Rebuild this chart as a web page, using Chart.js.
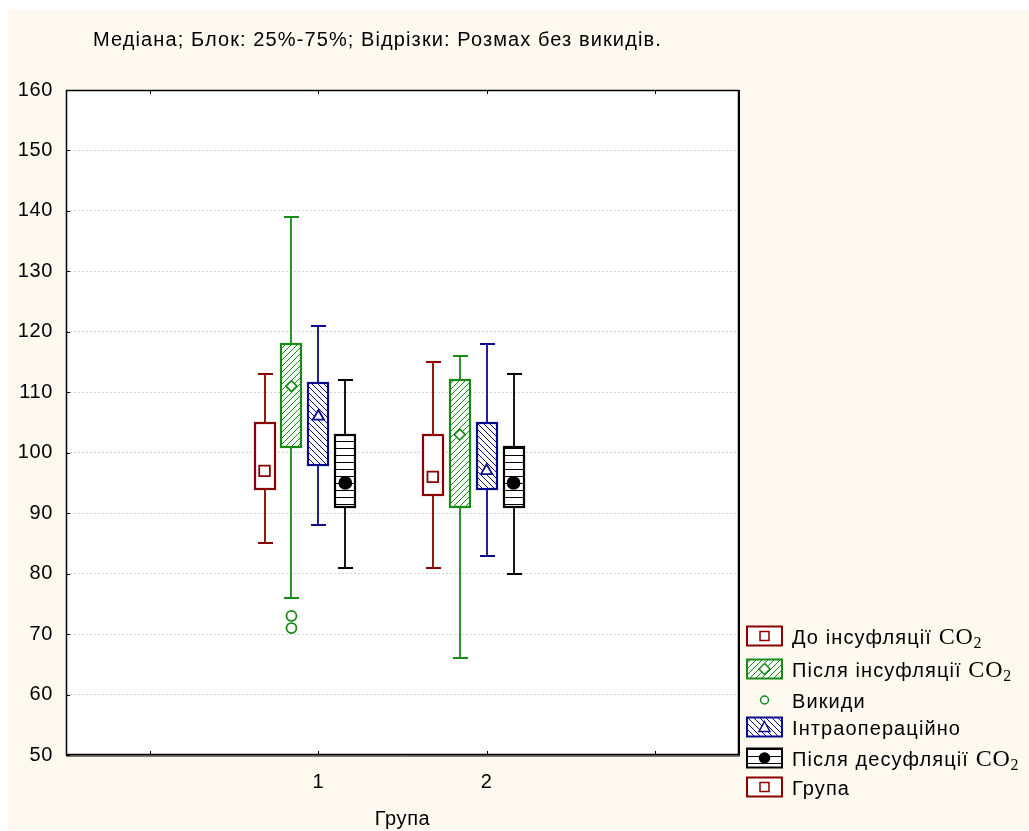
<!DOCTYPE html>
<html>
<head>
<meta charset="utf-8">
<script src="https://cdn.jsdelivr.net/npm/chart.js@4.4.0/dist/chart.umd.min.js"></script>
<style>
  html, body { margin: 0; padding: 0; background: #fff; }
  canvas { display: block; }
</style>
</head>
<body>
<canvas id="boxChart" width="1029" height="831"></canvas>
<script>
// Групи (вісь X) і мітки
const grupy = [1, 2];
const xMitky = [0, 1, 2, 3];

// Значення по групах [група 1, група 2]
const doMin = [85, 81], doQ1 = [94, 93], doMed = [97, 96], doQ3 = [105, 103], doMax = [113, 115];
const pislyaMin = [76, 66], pislyaQ1 = [101, 91], pislyaMed = [111, 103], pislyaQ3 = [118, 112], pislyaMax = [139, 116];
const intraMin = [88, 83], intraQ1 = [98, 94], intraMed = [106, 97], intraQ3 = [111.5, 105], intraMax = [121, 118];
const desMin = [81, 80], desQ1 = [91, 91], desMed = [95, 95], desQ3 = [103, 101], desMax = [112, 113];

// Викиди (тільки серія "Після інсуфляції")
const vykydy = [[73, 71], []];

const nazvy = ['До інсуфляції ', 'Після інсуфляції ', 'Інтраопераційно', 'Після десуфляції '];

const kolory = ['#8b0000', '#178a17', '#0a0a8a', '#000000'];
const zsuvy = [-0.32, -0.16, 0, 0.16];
const vizerunky = ['none', 'slash', 'back', 'hor'];
const markery = ['rect', 'rectRot', 'triangle', 'circle'];
const radiusy = [7.5, 5.5, 6.5, 6];

const serii = [
    { min: doMin, q1: doQ1, med: doMed, q3: doQ3, max: doMax },
    { min: pislyaMin, q1: pislyaQ1, med: pislyaMed, q3: pislyaQ3, max: pislyaMax },
    { min: intraMin, q1: intraQ1, med: intraMed, q3: intraQ3, max: intraMax },
    { min: desMin, q1: desQ1, med: desMed, q3: desQ3, max: desMax }
];

const SHRYFT = '"Liberation Sans", Arial, sans-serif';
const SERIF = '"Liberation Serif", "Times New Roman", serif';

// Штрихування для блоків
function vizerunok(ctx, tip, kolir) {
    if (tip === 'none') return '#ffffff';
    const n = tip === 'hor' ? 7 : 6;
    const c = document.createElement('canvas');
    c.width = n; c.height = n;
    const g = c.getContext('2d');
    g.fillStyle = '#ffffff';
    g.fillRect(0, 0, n, n);
    g.strokeStyle = kolir;
    g.lineWidth = 1;
    g.beginPath();
    if (tip === 'hor') {
        g.moveTo(0, 0.5); g.lineTo(n, 0.5);
    } else {
        for (const k of [-n, 0, n]) {
            if (tip === 'slash') { g.moveTo(k, n); g.lineTo(k + n, 0); }
            else { g.moveTo(k, 0); g.lineTo(k + n, n); }
        }
    }
    g.stroke();
    return ctx.createPattern(c, 'repeat');
}

function marker(ctx, styl, x, y, r, kolir) {
    ctx.save();
    ctx.strokeStyle = kolir;
    ctx.fillStyle = '#ffffff';
    ctx.lineWidth = 1.5;
    ctx.beginPath();
    if (styl === 'rect') {
        ctx.rect(x - r, y - r, 2 * r, 2 * r);
    } else if (styl === 'rectRot') {
        ctx.moveTo(x - r, y); ctx.lineTo(x, y - r); ctx.lineTo(x + r, y); ctx.lineTo(x, y + r); ctx.closePath();
    } else if (styl === 'triangle') {
        ctx.moveTo(x, y - r); ctx.lineTo(x + r, y + r * 0.8); ctx.lineTo(x - r, y + r * 0.8); ctx.closePath();
    } else {
        ctx.arc(x, y, r, 0, Math.PI * 2);
        ctx.fillStyle = styl === 'dot' ? kolir : '#ffffff';
    }
    ctx.fill();
    ctx.stroke();
    ctx.restore();
}

const boxPlugin = {
    id: 'boxPlugin',
    beforeDraw(chart) {
        const { ctx, chartArea: a, width, height } = chart;
        ctx.save();
        ctx.fillStyle = '#ffffff';
        ctx.fillRect(0, 0, width, height);
        ctx.fillStyle = '#fdf9ef';
        ctx.fillRect(8, 10, width - 8, height - 11);
        ctx.fillStyle = '#ffffff';
        ctx.fillRect(a.left, a.top, a.right - a.left, a.bottom - a.top);
        ctx.restore();
        // трохи ширші проміжки між літерами, як в оригіналі
        ctx.letterSpacing = '0.6px';
    },
    beforeDatasetsDraw(chart) {
        const { ctx, scales: { x, y } } = chart;
        ctx.save();
        serii.forEach((s, i) => {
            const fill = vizerunok(ctx, vizerunky[i], kolory[i]);
            grupy.forEach((g, j) => {
                const cx = Math.round(x.getPixelForValue(g + zsuvy[i]));
                const py = v => Math.round(y.getPixelForValue(v));
                const yMin = py(s.min[j]), yQ1 = py(s.q1[j]), yQ3 = py(s.q3[j]), yMax = py(s.max[j]);
                ctx.strokeStyle = kolory[i];
                ctx.lineWidth = 1.8;
                ctx.beginPath();
                ctx.moveTo(cx, yQ3); ctx.lineTo(cx, yMax);
                ctx.moveTo(cx - 7, yMax); ctx.lineTo(cx + 8, yMax);
                ctx.moveTo(cx, yQ1); ctx.lineTo(cx, yMin);
                ctx.moveTo(cx - 7, yMin); ctx.lineTo(cx + 8, yMin);
                ctx.stroke();
                ctx.fillStyle = fill;
                ctx.fillRect(cx - 10, yQ3, 20, yQ1 - yQ3);
                ctx.lineWidth = 2.2;
                ctx.strokeRect(cx - 10, yQ3, 20, yQ1 - yQ3);
            });
        });
        ctx.restore();
    },
    afterDatasetsDraw(chart) {
        const { ctx, chartArea: a, scales: { x, y } } = chart;
        ctx.save();
        ctx.strokeStyle = '#000';
        ctx.lineWidth = 1;
        ctx.beginPath();
        xMitky.forEach(v => {
            const px = Math.round(x.getPixelForValue(v)) + 0.5;
            ctx.moveTo(px, a.bottom); ctx.lineTo(px, a.bottom - 4);
            ctx.moveTo(px, a.top); ctx.lineTo(px, a.top + 4);
        });
        y.ticks.forEach(t => {
            const py = Math.round(y.getPixelForValue(t.value)) + 0.5;
            ctx.moveTo(a.left, py); ctx.lineTo(a.left + 4, py);
        });
        ctx.stroke();
        // рамка
        ctx.lineWidth = 1.5;
        ctx.strokeRect(a.left + 0.5, a.top + 0.5, a.right - a.left - 1, a.bottom - a.top - 1);
        ctx.lineWidth = 1;
        ctx.beginPath();
        ctx.moveTo(a.right + 0.5, a.top); ctx.lineTo(a.right + 0.5, a.bottom + 1);
        ctx.lineTo(a.left, a.bottom + 1);
        ctx.stroke();
        ctx.restore();
    },
    afterDraw(chart) {
        const { ctx } = chart;
        ctx.save();
        ctx.fillStyle = '#000';
        ctx.textBaseline = 'middle';
        ctx.letterSpacing = '1.1px';
        ctx.font = '20px ' + SHRYFT;
        ctx.fillText('Медіана; Блок: 25%-75%; Відрізки: Розмах без викидів.', 93, 40);

        // легенда
        const rows = [636, 669, 700, 727, 758, 787];
        const bx = 747, bw = 35, bh = 19;
        const elementy = [
            { tip: 0, tekst: nazvy[0], co2: true },
            { tip: 1, tekst: nazvy[1], co2: true },
            { tip: 'vykyd', tekst: 'Викиди' },
            { tip: 2, tekst: nazvy[2] },
            { tip: 3, tekst: nazvy[3], co2: true },
            { tip: 0, tekst: 'Група' }
        ];
        elementy.forEach((e, k) => {
            const cy = rows[k];
            const mx = bx + bw / 2;
            if (e.tip === 'vykyd') {
                marker(ctx, 'circle', mx, cy, 4, kolory[1]);
            } else {
                const i = e.tip;
                ctx.fillStyle = vizerunok(ctx, vizerunky[i], kolory[i]);
                ctx.fillRect(bx, cy - bh / 2, bw, bh);
                ctx.strokeStyle = kolory[i];
                ctx.lineWidth = 2;
                ctx.strokeRect(bx, cy - bh / 2, bw, bh);
                if (i === 3) {
                    marker(ctx, 'dot', mx, cy, 5, kolory[3]);
                } else {
                    marker(ctx, markery[i], mx, cy, i === 0 ? 4.5 : 5.5, kolory[i]);
                }
            }
            ctx.fillStyle = '#000';
            ctx.letterSpacing = '1.1px';
            ctx.font = '20px ' + SHRYFT;
            ctx.textBaseline = 'alphabetic';
            const base = cy + 8;
            ctx.fillText(e.tekst, 792, base);
            if (e.co2) {
                let tx = 792 + ctx.measureText(e.tekst).width;
                ctx.letterSpacing = '0.8px';
                ctx.font = '24px ' + SERIF;
                ctx.fillText('CO', tx, base);
                tx += ctx.measureText('CO').width;
                ctx.font = '16px ' + SERIF;
                ctx.fillText('2', tx, base + 4);
            }
        });
        ctx.restore();
    }
};

const datasets = serii.map((s, i) => ({
    label: nazvy[i],
    data: grupy.map((g, j) => ({ x: g + zsuvy[i], y: s.med[j] })),
    showLine: false,
    pointStyle: markery[i],
    pointRadius: radiusy[i],
    pointHoverRadius: radiusy[i],
    pointBorderColor: kolory[i],
    pointBackgroundColor: i === 3 ? kolory[i] : '#ffffff',
    pointBorderWidth: 1.8
}));

datasets.push({
    label: 'Викиди',
    data: grupy.flatMap((g, j) => vykydy[j].map(v => ({ x: g + zsuvy[1], y: v }))),
    showLine: false,
    pointStyle: 'circle',
    pointRadius: 5,
    pointHoverRadius: 5,
    pointBorderColor: kolory[1],
    pointBackgroundColor: 'rgba(0,0,0,0)',
    pointBorderWidth: 1.8
});

const ctx = document.getElementById('boxChart').getContext('2d');
const chart = new Chart(ctx, {
    type: 'scatter',
    data: { datasets: datasets },
    plugins: [boxPlugin],
    options: {
        responsive: false,
        animation: false,
        events: [],
        layout: { padding: { top: 90, right: 290, left: 0, bottom: 0 } },
        plugins: {
            legend: { display: false },
            tooltip: { enabled: false }
        },
        scales: {
            x: {
                type: 'linear',
                min: -0.5,
                max: 3.5,
                afterBuildTicks: s => { s.ticks = grupy.map(v => ({ value: v })); },
                afterFit: s => { s.height = 76; },
                grid: { display: false, drawTicks: false },
                border: { display: false },
                ticks: {
                    padding: 15,
                    color: '#000',
                    font: { family: SHRYFT, size: 20 },
                    callback: v => String(v)
                },
                title: {
                    display: true,
                    text: 'Група',
                    color: '#000',
                    font: { family: SHRYFT, size: 20 },
                    padding: { top: 0, bottom: 0 }
                }
            },
            y: {
                min: 50,
                max: 160,
                afterFit: s => { s.width = 66; },
                grid: { color: '#d4d4d4', lineWidth: 1, drawTicks: false },
                border: { display: false, dash: [2, 2] },
                ticks: {
                    stepSize: 10,
                    padding: 13,
                    color: '#000',
                    font: { family: SHRYFT, size: 20 }
                }
            }
        }
    }
});
</script>
</body>
</html>
